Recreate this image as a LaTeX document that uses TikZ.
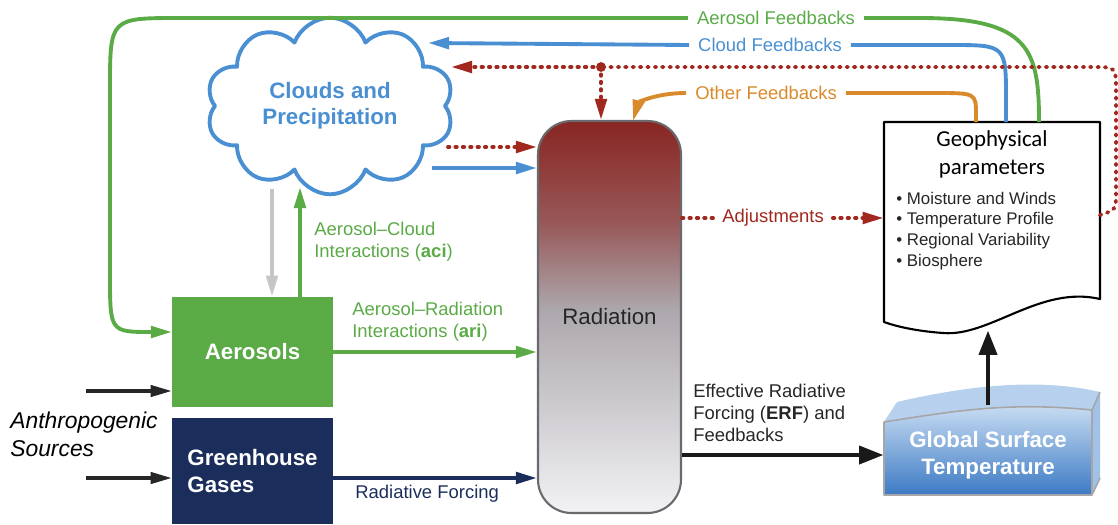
\documentclass[tikz,border=0pt]{standalone}
\usepackage{fontspec}
\setmainfont{Liberation Sans}
\newfontfamily\geofont{Carlito}
\usetikzlibrary{shapes.symbols, arrows.meta, positioning, calc}
\definecolor{aerogreen}{RGB}{90,170,70}
\definecolor{cloudblue}{RGB}{74,143,210}
\definecolor{adjred}{RGB}{160,40,30}
\definecolor{fborange}{RGB}{217,138,43}
\definecolor{ghgnavy}{RGB}{27,46,91}
\definecolor{radtop}{RGB}{136,38,34}
\definecolor{radrose}{RGB}{152,88,88}
\definecolor{radmid}{RGB}{172,167,172}
\definecolor{radbot}{RGB}{242,242,245}
\definecolor{radedge}{RGB}{105,105,110}
\definecolor{gsttop}{RGB}{205,224,244}
\definecolor{gstbot}{RGB}{60,122,196}
\definecolor{gstlid}{RGB}{182,208,238}
\definecolor{gstside}{RGB}{160,193,232}
\pgfdeclareverticalshading{radshade}{100bp}{color(0bp)=(radbot); color(25bp)=(radbot);
  color(51bp)=(radmid); color(62bp)=(radrose); color(75bp)=(radtop); color(100bp)=(radtop)}

\begin{document}
\begin{tikzpicture}[x=0.02cm, y=-0.02cm, line join=round,
  lbl/.style={font=\fontsize{10.5}{12.4}\selectfont, inner xsep=5pt, inner ysep=2pt},
  note/.style={font=\fontsize{10.5}{12.4}\selectfont, align=left, inner sep=0pt, anchor=west},
  boxtxt/.style={font=\fontsize{12.7}{15.5}\selectfont\bfseries, text=white},
  arr/.style={line width=2.2pt, -{Triangle[length=12pt,width=6.5pt]}},
  bigarr/.style={line width=2.8pt, -{Triangle[length=14pt,width=10pt]}},
  fbline/.style={line width=2.2pt},
  dotline/.style={adjred, line width=2.2pt, line cap=round, dash pattern=on 0.8pt off 3.4pt},
  dotarr/.style={dotline, -{Triangle[length=12pt,width=6.5pt]}}
]
  \useasboundingbox (0,0) rectangle (1118,524);

  % main blocks
  \node[cloud, cloud puffs=10, cloud puff arc=140, aspect=1.5, draw=cloudblue, line width=2.2pt,
        minimum width=4.95cm, minimum height=3.2cm, text=cloudblue, align=center,
        font=\fontsize{12.7}{14.7}\selectfont\bfseries] (cloud) at (330,106) {Clouds and\\Precipitation};
  \node[fill=aerogreen, minimum width=3.22cm, minimum height=2.2cm, boxtxt] (aero) at (252.5,352) {Aerosols};
  \node[fill=ghgnavy, minimum width=3.22cm, minimum height=2.12cm, boxtxt, align=left] (ghg) at (252.5,471) {Greenhouse\\Gases};
  \node[draw=radedge, line width=1.2pt, rounded corners=19pt, shading=radshade,
        minimum width=2.86cm, minimum height=7.84cm,
        font=\fontsize{12.7}{15}\selectfont, text=black!85] (rad) at (609.5,317) {Radiation};
  \node[font=\fontsize{13}{15.9}\selectfont\itshape, align=left, anchor=west, inner sep=0pt] (anthro) at (10,434) {Anthropogenic\\Sources};

  % geophysical parameters
  \draw[line width=1.2pt, fill=white] (884,122) -- (1100,122) -- (1100,299)
    .. controls (1040,285) and (990,337) .. (943,333) .. controls (915,331) and (895,326) .. (884,322) -- cycle;
  \node[minimum width=4.32cm, minimum height=4.16cm] (geo) at (992,226) {};
  \node[font=\geofont\fontsize{13}{15.9}\selectfont, align=center] (geotitle) at (992,154) {Geophysical\\parameters};
  \node[font=\fontsize{9.6}{11.9}\selectfont, align=left, anchor=west, inner sep=0pt, text=black!85] (geolist) at (896,231)
    {\textbullet\ Moisture and Winds\\\textbullet\ Temperature Profile\\\textbullet\ Regional Variability\\\textbullet\ Biosphere};

  % global surface temperature
  \fill[gstlid] (884,422) -- (897,402) .. controls (970,385) and (1040,378) .. (1100,392)
    -- (1092,410) .. controls (1010,402) and (960,410) .. (884,422) -- cycle;
  \fill[gstside] (1092,410) -- (1100,392) -- (1100,478) -- (1092,495) -- cycle;
  \shade[top color=gsttop, bottom color=gstbot] (884,422) .. controls (960,410) and (1010,402) .. (1092,410)
    -- (1092,495) -- (884,495) -- cycle;
  \draw[gray!70, line width=0.9pt] (884,495) -- (884,422) .. controls (960,410) and (1010,402) .. (1092,410)
    -- (1092,495) -- cycle (1092,410) -- (1100,392) (1092,495) -- (1100,478);
  \node[boxtxt, align=center, minimum width=4.16cm, minimum height=2cm] (gst) at (988,455) {Global Surface\\Temperature};

  % anchor points on borders
  \coordinate (src1) at (86,391);
  \coordinate (src2) at (86,478);
  \coordinate (ghgout) at (333,478);
  \coordinate (cloudbot1) at (272,189);
  \coordinate (cloudbot2) at (300,187);
  \coordinate (cloudr1) at (448,147);
  \coordinate (cloudr2) at (432,168);
  \coordinate (cloudfb) at (428,43);
  \coordinate (cloudrd) at (451,67);
  \coordinate (aeroin) at (172,332);
  \coordinate (radO) at (633,121);
  \coordinate (reddot) at (601,67);
  \coordinate (geoO) at (976,122);
  \coordinate (geoC) at (1006,122);
  \coordinate (geoA) at (1039,122);
  \coordinate (geoR) at (1100,215);

  % sources and forcings
  \draw[arr, line width=1.8pt, black!85] (src1) -- (src1 -| aero.west);
  \draw[arr, line width=1.8pt, black!85] (src2) -- (src2 -| ghg.west);
  \draw[arr, aerogreen] (aero.east) -- (aero.east -| rad.west);
  \node[note, text=aerogreen] (arilbl) at (352,322) {Aerosol--Radiation\\Interactions (\textbf{ari})};
  \draw[arr, ghgnavy] (ghgout) -- (ghgout -| rad.west);
  \node[note, text=ghgnavy] (rflbl) at (355,494) {Radiative Forcing};
  \draw[arr, gray!45] (cloudbot1) -- (cloudbot1 |- aero.north);
  \draw[arr, aerogreen] (cloudbot2 |- aero.north) -- (cloudbot2);
  \node[note, text=aerogreen] (acilbl) at (314,242) {Aerosol--Cloud\\Interactions (\textbf{aci})};
  \draw[dotarr] (cloudr1) -- (cloudr1 -| rad.west);
  \draw[arr, cloudblue] (cloudr2) -- (cloudr2 -| rad.west);

  % adjustments and ERF
  \node[lbl, text=adjred] (adj) at (773,218) {Adjustments};
  \draw[dotline] (adj.west -| rad.east) -- (adj.west);
  \draw[dotarr] (adj.east) -- (adj.east -| geo.west);
  \draw[bigarr, black!90] (gst.west -| rad.east) -- (gst.west);
  \node[note, text=black!85] (erflbl) at (693,413) {Effective Radiative\\Forcing (\textbf{ERF}) and\\Feedbacks};
  \draw[bigarr, black!90] (gst.north) -- (gst.north |- geo.south);

  % feedback loops
  \node[lbl, text=aerogreen] (afb) at (776,18) {Aerosol Feedbacks};
  \draw[fbline, aerogreen] (geoA) .. controls (1039,50) and (1030,18) .. (920,18) -- (afb.east);
  \draw[arr, aerogreen] (afb.west) -- (180,18) .. controls (110,18) .. (110,88) -- (110,275) .. controls (110,332) .. (aeroin);
  \node[lbl, text=cloudblue] (cfb) at (770,45) {Cloud Feedbacks};
  \draw[fbline, cloudblue] (geoC) -- (1006,100) .. controls (1006,45) .. (950,45) -- (cfb.east);
  \draw[arr, cloudblue] (cfb.west) -- (cloudfb);
  \node[lbl, text=fborange] (ofb) at (766,93) {Other Feedbacks};
  \draw[fbline, fborange] (geoO) -- (976,115) .. controls (976,93) .. (935,93) -- (ofb.east);
  \draw[arr, fborange] (ofb.west) .. controls (655,93) and (638,103) .. (radO);
  \draw[dotline] (geoR) .. controls (1116,210) .. (1116,190) -- (1116,90) .. controls (1116,67) .. (1092,67) -- (reddot);
  \draw[dotarr] (reddot) -- (cloudrd);
  \draw[dotarr] (reddot) -- (reddot |- rad.north);
  \fill[adjred] (reddot) circle (2.8pt);
\end{tikzpicture}
\end{document}
